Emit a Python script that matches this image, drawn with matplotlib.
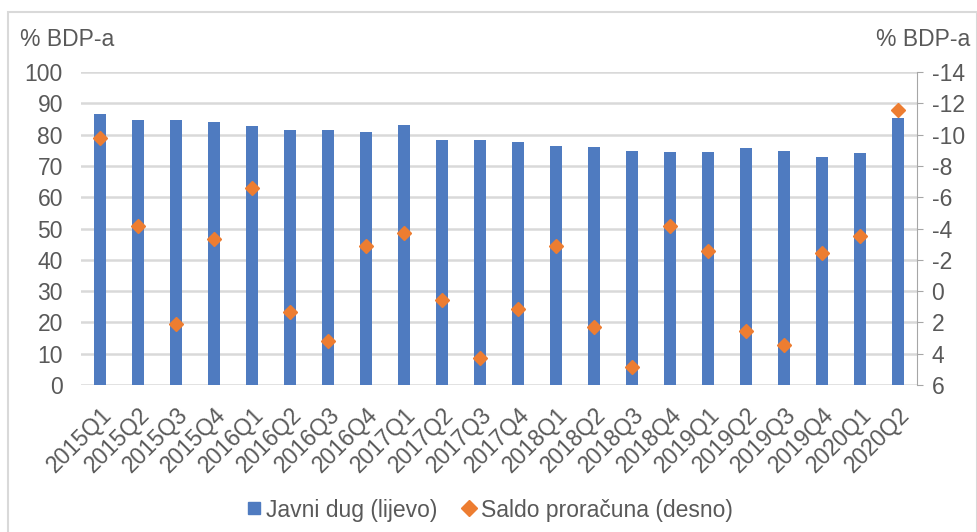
import numpy as np
import matplotlib.pyplot as plt
from matplotlib.patches import Rectangle
from matplotlib.lines import Line2D

plt.rcParams['font.family'] = ['Liberation Sans', 'DejaVu Sans']
plt.rcParams['axes.unicode_minus'] = False

quarters = ['2015Q1', '2015Q2', '2015Q3', '2015Q4', '2016Q1', '2016Q2', '2016Q3',
            '2016Q4', '2017Q1', '2017Q2', '2017Q3', '2017Q4', '2018Q1', '2018Q2',
            '2018Q3', '2018Q4', '2019Q1', '2019Q2', '2019Q3', '2019Q4', '2020Q1',
            '2020Q2']
# public debt, % of GDP (left axis)
javni_dug = [86.6, 84.7, 84.7, 83.9, 82.6, 81.5, 81.5, 80.8, 83.1, 78.4, 78.4,
             77.6, 76.5, 76.0, 74.9, 74.4, 74.4, 75.7, 74.8, 72.8, 74.1, 85.3]
# budget balance, % of GDP (right axis, inverted)
saldo = [-9.8, -4.16, 2.1, -3.33, -6.6, 1.34, 3.2, -2.9, -3.7, 0.57, 4.27,
         1.16, -2.9, 2.3, 4.87, -4.16, -2.56, 2.55, 3.44, -2.43, -3.52, -11.6]
left_ticks = [0, 10, 20, 30, 40, 50, 60, 70, 80, 90, 100]
right_ticks = [-14, -12, -10, -8, -6, -4, -2, 0, 2, 4, 6]

BLUE = '#4F7BC0'
ORANGE = '#ED7D31'
TXT = '#595959'
GRID = '#D9D9D9'
FS = 16.5

fig = plt.figure(figsize=(9.78, 5.32), dpi=100)
# outer frame of the chart
fig.patches.append(Rectangle((8 / 978, -0.02), 969 / 978, 1 - 12 / 532 + 0.02,
                             transform=fig.transFigure, fill=False,
                             edgecolor='#D9D9D9', linewidth=1.5))

ax = fig.add_axes([81 / 978, 1 - 385 / 532, (917 - 81) / 978, (385 - 72) / 532])
x = np.arange(len(quarters))
ax.bar(x, javni_dug, width=0.32, color=BLUE, zorder=2)
ax.set_ylim(0, 100)
ax.set_xlim(-0.5, len(quarters) - 0.5)
ax.set_yticks(left_ticks)
ax.yaxis.grid(True, color=GRID, linewidth=1.8, zorder=0)
ax.set_axisbelow(True)
for s in ax.spines.values():
    s.set_visible(False)
ax.tick_params(axis='y', length=0, labelsize=FS, labelcolor=TXT, pad=13)
ax.tick_params(axis='x', length=0, labelsize=FS, labelcolor=TXT, pad=13)
ax.set_xticks(x)
ax.set_xticklabels(quarters, rotation=45, ha='right', rotation_mode='anchor')

ax2 = ax.twinx()
ax2.plot(x, saldo, linestyle='none', marker='D', markersize=7.5,
         color=ORANGE, zorder=3)
ax2.set_ylim(6, -14)
ax2.set_yticks(right_ticks)
for s in ax2.spines.values():
    s.set_visible(False)
ax2.spines['right'].set_visible(True)
ax2.spines['right'].set_color('#A6A6A6')
ax2.tick_params(axis='y', length=4.5, color='#A6A6A6', labelsize=FS,
                labelcolor=TXT, pad=6)

fig.text(20 / 978, 1 - 40 / 532, '% BDP-a', fontsize=FS, color=TXT,
         ha='left', va='center')
fig.text(970 / 978, 1 - 40 / 532, '% BDP-a', fontsize=FS, color=TXT,
         ha='right', va='center')

handles = [Line2D([], [], linestyle='none', marker='s', markersize=9, color=BLUE),
           Line2D([], [], linestyle='none', marker='D', markersize=8, color=ORANGE)]
fig.legend(handles, ['Javni dug (lijevo)', 'Saldo proračuna (desno)'],
           loc='center', bbox_to_anchor=(0.5, 1 - 510 / 532), ncol=2,
           frameon=False, fontsize=FS, labelcolor=TXT, handletextpad=0.1,
           columnspacing=1.0, handlelength=0.8)

fig.savefig('out.png', dpi=100)
